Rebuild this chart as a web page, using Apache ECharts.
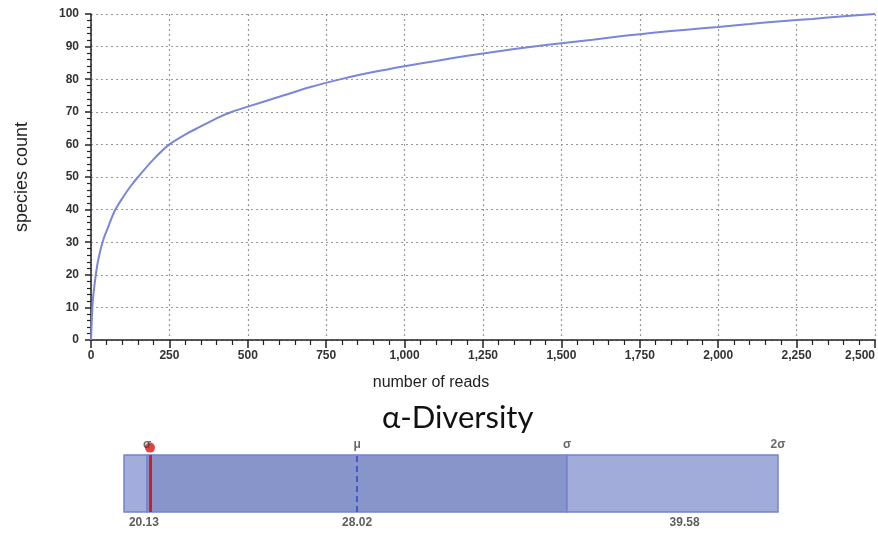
<!DOCTYPE html>
<html>
<head>
<meta charset="utf-8">
<script src="https://cdn.jsdelivr.net/npm/echarts@6/dist/echarts.min.js"></script>
<style>html,body{margin:0;padding:0;background:#fff}#c{width:878px;height:535px}</style>
</head>
<body>
<div id="c"></div>
<script>
// Rarefaction curve (reads, species count)
const reads   = [0, 5, 10, 20, 30, 40, 50, 75, 100, 125, 150, 200, 250, 300, 350, 400, 450, 500, 600, 700, 800, 900, 1000, 1100, 1200, 1300, 1400, 1500, 1600, 1700, 1800, 1900, 2000, 2100, 2200, 2300, 2400, 2500];
const species = [0, 11, 16, 23, 27.5, 31, 33.5, 39.5, 43.5, 47, 50, 55.5, 60, 63, 65.5, 68, 70, 71.6, 74.6, 77.6, 80.1, 82.2, 84, 85.6, 87.2, 88.6, 89.9, 91, 92.1, 93.3, 94.3, 95.2, 96, 96.9, 97.8, 98.5, 99.3, 100];
const xTicks = [0, 250, 500, 750, 1000, 1250, 1500, 1750, 2000, 2250, 2500];
const yTicks = [0, 10, 20, 30, 40, 50, 60, 70, 80, 90, 100];

// Alpha-diversity gauge
const bandEdges = [19.14, 20.02, 36.02, 44.06];   // left edge, -σ, +σ, +2σ
const sampleValue = 20.13;
const meanValue = 28.02;
const markerNames = ['σ', 'μ', 'σ', '2σ'];
const markerPos = [20.02, 28.02, 36.02, 44.06];
const valueLabels = ['20.13', '28.02', '39.58'];
const valueLabelPos = [19.9, 28.02, 40.5];

const chart = echarts.init(document.getElementById('c'));
const fmt = v => v.toLocaleString('en-US');
const tickFont = {color: '#333', fontSize: 12, fontFamily: 'Liberation Sans, Arial', fontWeight: 'bold'};

chart.setOption({
  animation: false,
  title: {
    text: 'α-Diversity', left: 377, top: 397,
    textStyle: {fontFamily: 'Lato, Open Sans', fontSize: 31, fontWeight: 'normal', color: '#111'}
  },
  grid: [
    {left: 91, right: 3, top: 14, bottom: 195, outerBoundsMode: 'none'},
    {left: 124, right: 100, top: 455, height: 57, outerBoundsMode: 'none'}
  ],
  xAxis: [
    {
      gridIndex: 0, type: 'value', min: xTicks[0], max: xTicks[xTicks.length - 1], interval: 250,
      name: 'number of reads', nameLocation: 'middle', nameGap: 35,
      nameTextStyle: {fontSize: 16, color: '#222', fontFamily: 'Liberation Sans, Arial', padding: [0, 104, 0, 0]},
      axisLine: {onZero: false, lineStyle: {color: '#222', width: 1.5}},
      axisTick: {length: 8, lineStyle: {color: '#222', width: 1.5}},
      minorTick: {show: true, splitNumber: 5, length: 5, lineStyle: {color: '#222', width: 1.2}},
      axisLabel: Object.assign({formatter: fmt, margin: 10, alignMaxLabel: 'right'}, tickFont),
      splitLine: {show: true, lineStyle: {color: '#999', type: [2, 3], width: 1.2}}
    },
    {
      gridIndex: 1, type: 'value', min: bandEdges[0], max: bandEdges[3], show: false
    }
  ],
  yAxis: [
    {
      gridIndex: 0, type: 'value', min: yTicks[0], max: yTicks[yTicks.length - 1], interval: 10,
      name: 'species count', nameLocation: 'middle', nameGap: 60,
      nameTextStyle: {fontSize: 18, color: '#222', fontFamily: 'Liberation Sans, Arial'},
      axisLine: {show: true, lineStyle: {color: '#222', width: 1.5}},
      axisTick: {show: true, length: 6, lineStyle: {color: '#222', width: 1.5}},
      minorTick: {show: true, splitNumber: 5, length: 4, lineStyle: {color: '#222', width: 1.2}},
      axisLabel: Object.assign({margin: 12}, tickFont),
      splitLine: {show: true, lineStyle: {color: '#999', type: [2, 3], width: 1.2}}
    },
    {
      gridIndex: 1, type: 'value', min: 0, max: 1, show: false
    }
  ],
  series: [
    {
      type: 'line', xAxisIndex: 0, yAxisIndex: 0, showSymbol: false, smooth: 0.3,
      lineStyle: {color: '#7b86d8', width: 2},
      data: reads.map((r, i) => [r, species[i]])
    },
    {
      type: 'scatter', xAxisIndex: 1, yAxisIndex: 1, symbolSize: 0, silent: true,
      data: [],
      markArea: {
        silent: true,
        data: [
          [{xAxis: bandEdges[0], yAxis: 0, itemStyle: {color: '#a3addb', borderColor: '#7483cc', borderWidth: 1.5}}, {xAxis: bandEdges[1], yAxis: 1}],
          [{xAxis: bandEdges[1], yAxis: 0, itemStyle: {color: '#8895cb', borderColor: '#7483cc', borderWidth: 1.5}}, {xAxis: bandEdges[2], yAxis: 1}],
          [{xAxis: bandEdges[2], yAxis: 0, itemStyle: {color: '#a1acda', borderColor: '#7483cc', borderWidth: 1.5}}, {xAxis: bandEdges[3], yAxis: 1}]
        ]
      },
      markLine: {
        silent: true, symbol: 'none', label: {show: false},
        data: [
          [{coord: [meanValue, 0], lineStyle: {color: '#4558c8', width: 2, type: [6, 4]}}, {coord: [meanValue, 1]}],
          [{coord: [sampleValue, 0], lineStyle: {color: '#cc1f1f', width: 3, type: 'solid'}}, {coord: [sampleValue, 1]}]
        ]
      }
    },
    {
      // top marker labels
      type: 'scatter', xAxisIndex: 1, yAxisIndex: 1, symbolSize: 0, silent: true, clip: false,
      data: markerPos.map((p, i) => ({value: [p, 1.18], name: markerNames[i]})),
      label: {show: true, formatter: '{b}', position: 'inside', fontSize: 12, fontWeight: 'bold', color: '#444', fontFamily: 'Liberation Sans, Arial'}
    },
    {
      // bottom value labels
      type: 'scatter', xAxisIndex: 1, yAxisIndex: 1, symbolSize: 0, silent: true, clip: false,
      data: valueLabelPos.map((p, i) => ({value: [p, -0.19], name: valueLabels[i]})),
      label: {show: true, formatter: '{b}', position: 'inside', fontSize: 12, fontWeight: 'bold', color: '#333', fontFamily: 'Liberation Sans, Arial'}
    },
    {
      // sample dot
      type: 'scatter', xAxisIndex: 1, yAxisIndex: 1, clip: false, silent: true, symbolSize: 10,
      itemStyle: {color: '#dd1111'},
      data: [[sampleValue, 1.13]]
    }
  ]
});
</script>
</body>
</html>
